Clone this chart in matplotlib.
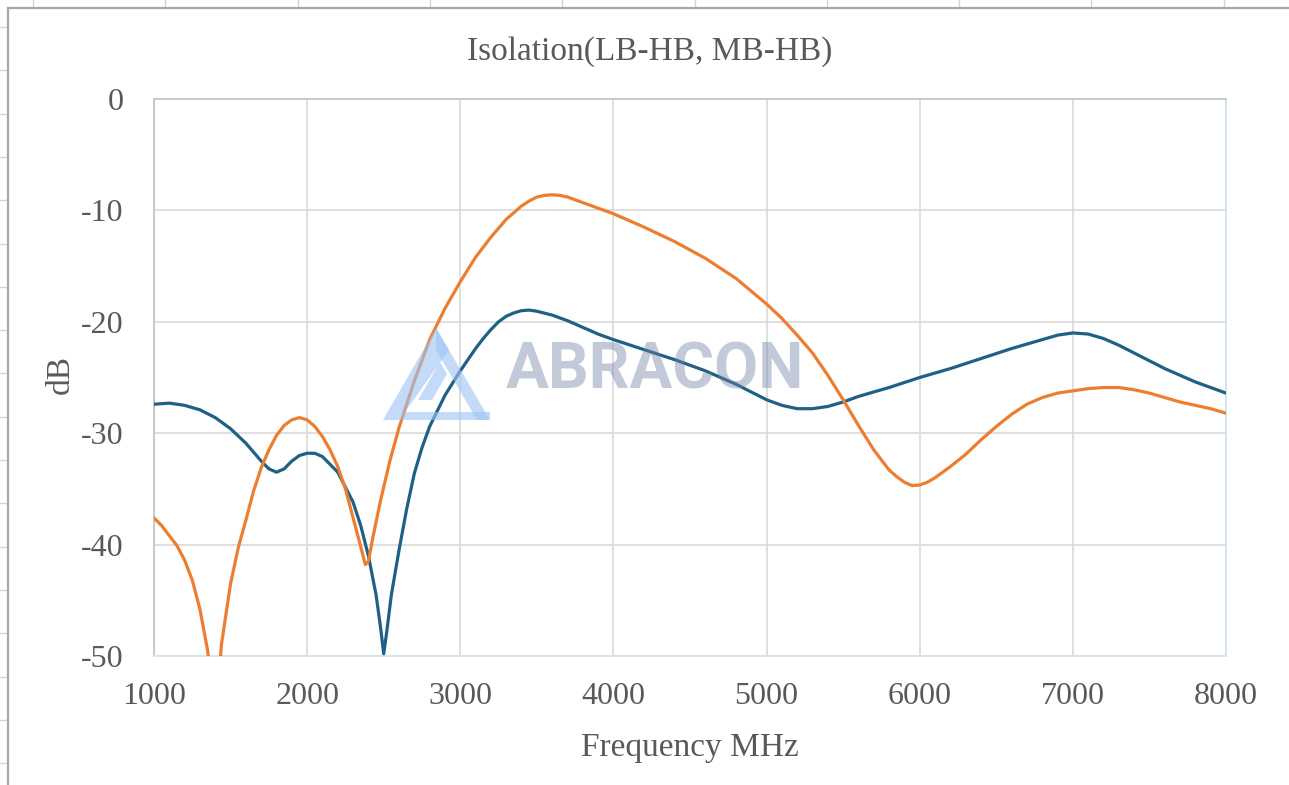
import matplotlib
matplotlib.use("Agg")
import matplotlib.pyplot as plt
from matplotlib.patches import Polygon
from matplotlib.lines import Line2D

# ---------------- data ----------------
blue_freq = [1000, 1100, 1200, 1300, 1400, 1500, 1600, 1700, 1750, 1800, 1850, 1900,
             1950, 2000, 2050, 2100, 2200, 2300, 2350, 2400, 2450, 2480, 2500, 2520,
             2550, 2600, 2650, 2700, 2750, 2800, 2900, 3000, 3100, 3150, 3200, 3250, 3300,
             3350, 3400, 3450, 3500,
             3600, 3700, 3800, 3900, 4000, 4200, 4400, 4600, 4800, 4900, 5000, 5100,
             5200, 5300, 5400, 5500, 5600, 5800, 6000, 6200, 6400, 6600, 6800, 6900,
             7000, 7100, 7200, 7300, 7400, 7500, 7600, 7700, 7800, 7900, 8000]
blue_db = [-27.4, -27.3, -27.5, -27.9, -28.6, -29.6, -30.9, -32.5, -33.2, -33.5, -33.2, -32.5,
           -32.0, -31.8, -31.8, -32.1, -33.5, -36.2, -38.3, -41.0, -44.5, -47.5, -49.8, -47.8,
           -44.5, -40.5, -36.8, -33.6, -31.3, -29.4, -26.6, -24.4, -22.4, -21.5, -20.7, -20.0, -19.5,
           -19.2, -19.0, -18.95, -19.05,
           -19.4, -19.9, -20.5, -21.1, -21.6, -22.5, -23.4, -24.4, -25.6, -26.3, -27.0, -27.5,
           -27.8, -27.8, -27.6, -27.2, -26.7, -25.9, -25.0, -24.2, -23.3, -22.4, -21.6, -21.2,
           -21.0, -21.1, -21.5, -22.1, -22.8, -23.5, -24.2, -24.8, -25.4, -25.9, -26.4]

orange_freq = [1000, 1050, 1100, 1150, 1200, 1250, 1300, 1350, 1380, 1400, 1420, 1440,
               1500, 1550, 1600, 1650, 1700, 1750, 1800, 1850, 1900, 1950, 2000, 2050,
               2100, 2150, 2200, 2250, 2300, 2350, 2380, 2400, 2430, 2480, 2540, 2600,
               2700, 2800, 2900, 3000, 3100, 3200, 3300, 3400, 3450, 3500, 3550, 3600, 3650, 3700, 3800,
               3900, 4000, 4200, 4400, 4600, 4800, 5000, 5100, 5200, 5300, 5400, 5500, 5600,
               5700, 5800, 5850, 5900, 5950, 6000, 6050, 6100, 6200, 6300, 6400, 6500, 6600, 6700,
               6800, 6900, 7000, 7100, 7200, 7300, 7400, 7500, 7600, 7700, 7800, 7900, 8000]
orange_db = [-37.6, -38.3, -39.2, -40.1, -41.4, -43.2, -45.8, -49.5, -53.0, -56.0, -53.0, -49.0,
             -43.5, -40.3, -37.8, -35.2, -33.1, -31.5, -30.2, -29.3, -28.8, -28.6, -28.8, -29.4,
             -30.3, -31.5, -33.0, -35.0, -37.6, -40.2, -41.8, -41.5, -39.3, -36.0, -32.5, -29.5,
             -25.3, -21.6, -18.8, -16.4, -14.2, -12.4, -10.8, -9.6, -9.15, -8.8, -8.65, -8.6, -8.65, -8.8, -9.3,
             -9.8, -10.3, -11.5, -12.8, -14.3, -16.1, -18.4, -19.7, -21.2, -22.8, -24.8, -27.0, -29.3,
             -31.5, -33.3, -33.9, -34.4, -34.7, -34.65, -34.4, -34.0, -33.0, -31.9, -30.6, -29.4, -28.3, -27.4,
             -26.8, -26.4, -26.2, -26.0, -25.9, -25.9, -26.1, -26.4, -26.8, -27.2, -27.5, -27.8, -28.2]

x_ticks = [1000, 2000, 3000, 4000, 5000, 6000, 7000, 8000]
y_ticks = [0, -10, -20, -30, -40, -50]

title = "Isolation(LB-HB, MB-HB)"
xlabel = "Frequency MHz"
ylabel = "dB"

# ---------------- figure ----------------
W, H = 1289, 785
fig = plt.figure(figsize=(W / 100, H / 100), dpi=100)
fig.patch.set_facecolor("white")

def fx(px):
    return px / W

def fy(py):
    return 1 - py / H

# spreadsheet background (decorative)
for k in range(10):
    x = 33 + 132.3 * k
    fig.add_artist(Line2D([fx(x), fx(x)], [fy(0), fy(8)], color="#d4d4d4", lw=1))
for k in range(18):
    y = 27 + 43.3 * k
    fig.add_artist(Line2D([fx(0), fx(7)], [fy(y), fy(y)], color="#d4d4d4", lw=1))
fig.add_artist(Line2D([fx(8), fx(8)], [fy(8), fy(H)], color="#a6a6a6", lw=1.6))
fig.add_artist(Line2D([fx(8), fx(W)], [fy(8), fy(8)], color="#a6a6a6", lw=1.6))

ax = fig.add_axes([fx(154), fy(656), fx(1226) - fx(154), (656 - 99) / H])
ax.set_facecolor("white")

blue_c = "#1f6186"
orange_c = "#ed7d31"
ax.plot(blue_freq, blue_db, color=blue_c, lw=2.3, solid_capstyle="round",
        solid_joinstyle="round", zorder=3)
ax.plot(orange_freq, orange_db, color=orange_c, lw=2.3, solid_capstyle="round",
        solid_joinstyle="round", zorder=3)

ax.set_xlim(1000, 8000)
ax.set_ylim(-50, 0)
ax.set_xticks(x_ticks)
ax.set_yticks(y_ticks)
ax.set_xticklabels([str(v) for v in x_ticks])
ax.set_yticklabels([str(v) for v in y_ticks])
ax.grid(True, color="#d9d9d9", lw=1.2, zorder=0)
ax.set_axisbelow(True)

for side in ["left", "top"]:
    ax.spines[side].set_color("#c8c8c8")
    ax.spines[side].set_linewidth(1.4)
for side in ["right", "bottom"]:
    ax.spines[side].set_color("#cfe6f5")
    ax.spines[side].set_linewidth(1.4)

serif = ["Liberation Serif", "DejaVu Serif"]
txt_c = "#595959"
ax.tick_params(axis="both", length=0, labelsize=23, labelcolor=txt_c)
ax.tick_params(axis="x", pad=19)
ax.tick_params(axis="y", pad=22)
for lab in ax.get_xticklabels() + ax.get_yticklabels():
    lab.set_fontfamily(serif)

fig.text(fx(650), fy(52), title, ha="center", va="center", fontsize=24,
         color=txt_c, family=serif)
fig.text(fx(690), fy(748), xlabel, ha="center", va="center", fontsize=24,
         color=txt_c, family=serif)
fig.text(fx(60), fy(375), ylabel, ha="center", va="center", fontsize=24,
         color=txt_c, family=serif, rotation=90)

# watermark (decorative)
logo_c = "#9cc4f5"
def P(pts):
    return [(fx(a), fy(b)) for a, b in pts]
fig.add_artist(Polygon(P([(383, 420), (436, 328), (449, 350), (405, 412), (490, 412), (490, 420)]),
                       closed=True, fc=logo_c, ec="none", alpha=0.6, zorder=5))
fig.add_artist(Polygon(P([(436, 328), (490, 420), (477, 420), (436, 350)]),
                       closed=True, fc=logo_c, ec="none", alpha=0.6, zorder=5))
fig.add_artist(Polygon(P([(418, 400), (440, 362), (447, 374), (432, 400)]),
                       closed=True, fc=logo_c, ec="none", alpha=0.6, zorder=5))
fig.text(fx(506), fy(371), "ABRACON", ha="left", va="center", fontsize=46,
         fontweight="bold", family=["Roboto", "DejaVu Sans"], color="#6e82a6",
         alpha=0.42, zorder=6)

fig.savefig("out.png", dpi=100, facecolor="white")
